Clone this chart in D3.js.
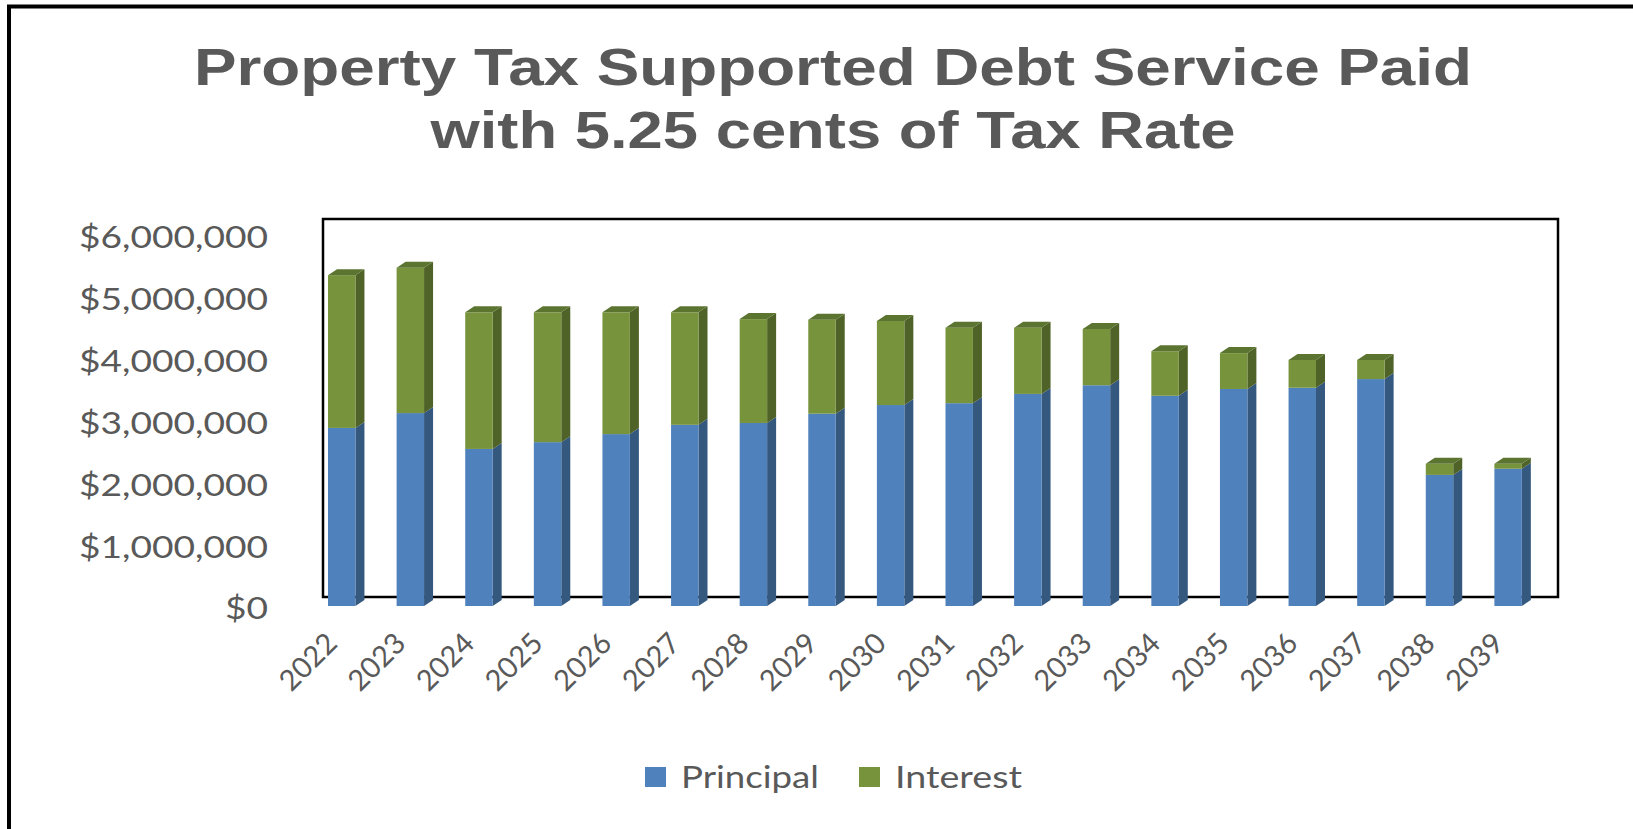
<!DOCTYPE html>
<html>
<head>
<meta charset="utf-8">
<script src="https://cdn.jsdelivr.net/npm/d3@7"></script>
<style>
  body { margin: 0; background: #fff; }
  svg { display: block; }
</style>
</head>
<body>
<svg id="chart" width="1633" height="829"></svg>
<script>
const YEARS = ['2022', '2023', '2024', '2025', '2026', '2027', '2028', '2029', '2030',
  '2031', '2032', '2033', '2034', '2035', '2036', '2037', '2038', '2039'];
const PRINCIPAL = [2880000, 3120000, 2540000, 2650000, 2780000, 2930000, 2960000, 3110000, 3250000,
  3280000, 3430000, 3570000, 3400000, 3510000, 3530000, 3670000, 2120000, 2220000];
const INTEREST = [2470000, 2350000, 2210000, 2100000, 1970000, 1820000, 1680000, 1520000, 1360000,
  1220000, 1070000, 910000, 720000, 580000, 450000, 310000, 180000, 80000];
const SERIES = ['Principal', 'Interest'];
const Y_TICKS = [0, 1000000, 2000000, 3000000, 4000000, 5000000, 6000000];
const TITLE_LINES = ['Property Tax Supported Debt Service Paid', 'with 5.25 cents of Tax Rate'];

const COLORS = {
  Principal: { front: '#4f81bd', side: '#35587f', top: '#6b95c9' },
  Interest: { front: '#77933c', side: '#4f6228', top: '#5b7530' }
};
const TEXT = '#595959';
const DX = 9; // 3d depth offset
const DY = 6;

const svg = d3.select('#chart');
svg.append('rect').attr('width', 1633).attr('height', 829).attr('fill', '#fff');

// outer border (only top and left visible in the picture)
svg.append('path')
  .attr('d', 'M9,829 V6.5 H1633')
  .attr('fill', 'none')
  .attr('stroke', '#000')
  .attr('stroke-width', 4);

// title
const titleWidths = [1278, 805];
svg.selectAll('text.title')
  .data(TITLE_LINES)
  .enter()
  .append('text')
  .attr('class', 'title')
  .attr('x', 833)
  .attr('y', (d, i) => (i === 0 ? 85 : 148))
  .attr('text-anchor', 'middle')
  .attr('font-family', 'Liberation Sans, Arial, sans-serif')
  .attr('font-weight', 'bold')
  .attr('font-size', 52)
  .attr('fill', TEXT)
  .attr('textLength', (d, i) => titleWidths[i])
  .attr('lengthAdjust', 'spacingAndGlyphs')
  .text(d => d);

const plot = { left: 323, right: 1558, top: 219, bottom: 597 };

const x = d3.scaleBand()
  .domain(YEARS)
  .range([318, 1553]);
const y = d3.scaleLinear()
  .domain([0, 6000000])
  .range([606, 235]);

const barWidth = x.bandwidth() * 0.4;
const frontX = d => x(d) + 10;

// back wall frame
svg.append('rect')
  .attr('x', plot.left)
  .attr('y', plot.top)
  .attr('width', plot.right - plot.left)
  .attr('height', plot.bottom - plot.top)
  .attr('fill', 'none')
  .attr('stroke', '#000')
  .attr('stroke-width', 2.5);

// y axis labels
const yAxis = d3.axisLeft(y)
  .tickValues(Y_TICKS)
  .tickSize(0)
  .tickPadding(0)
  .tickFormat(d3.format('$,.0f'));
const yg = svg.append('g').attr('transform', 'translate(268,3)').call(yAxis);
yg.select('.domain').remove();
yg.selectAll('text')
  .attr('font-family', 'Lato, Carlito, Calibri, sans-serif')
  .attr('font-size', 31)
  .attr('fill', TEXT);
const yStretch = 189 / yg.selectAll('text').filter(d => d === 6000000).node().getComputedTextLength();
yg.selectAll('text').each(function stretch() {
  const len = this.getComputedTextLength();
  d3.select(this).attr('textLength', len * yStretch).attr('lengthAdjust', 'spacingAndGlyphs');
});

// stacked bars
const rows = YEARS.map((year, i) => ({ year, Principal: PRINCIPAL[i], Interest: INTEREST[i] }));
const stacked = d3.stack().keys(SERIES)(rows);

stacked.forEach((layer, li) => {
  const c = COLORS[layer.key];
  const g = svg.append('g').attr('class', `series-${layer.key}`);
  layer.forEach(seg => {
    const year = seg.data.year;
    const xl = frontX(year);
    const xr = xl + barWidth;
    const yt = y(seg[1]);
    const yb = y(seg[0]);
    // side face
    g.append('path')
      .attr('d', `M${xr},${yt} L${xr + DX},${yt - DY} L${xr + DX},${yb - DY} L${xr},${yb} Z`)
      .attr('fill', c.side);
    // front face
    g.append('rect')
      .attr('x', xl)
      .attr('y', yt)
      .attr('width', barWidth)
      .attr('height', yb - yt)
      .attr('fill', c.front);
    // top face for the highest segment
    if (li === stacked.length - 1) {
      g.append('path')
        .attr('d', `M${xl},${yt} L${xl + DX},${yt - DY} L${xr + DX},${yt - DY} L${xr},${yt} Z`)
        .attr('fill', c.top);
    }
  });
});

// x axis labels
const xg = svg.append('g');
xg.selectAll('text')
  .data(YEARS)
  .enter()
  .append('text')
  .attr('transform', d => `translate(${frontX(d) + barWidth / 2 - 10},${638}) rotate(-45)`)
  .attr('text-anchor', 'end')
  .attr('dy', '0.35em')
  .attr('font-family', 'Lato, Carlito, Calibri, sans-serif')
  .attr('font-size', 29)
  .attr('fill', TEXT)
  .text(d => d);

// legend
const legendItems = [
  { key: 'Principal', sx: 645, tx: 681, tw: 138 },
  { key: 'Interest', sx: 859, tx: 895, tw: 127 }
];
const lg = svg.append('g');
lg.selectAll('rect')
  .data(legendItems)
  .enter()
  .append('rect')
  .attr('x', d => d.sx)
  .attr('y', 767)
  .attr('width', 21)
  .attr('height', 20)
  .attr('fill', d => COLORS[d.key].front);
lg.selectAll('text')
  .data(legendItems)
  .enter()
  .append('text')
  .attr('x', d => d.tx)
  .attr('y', 777)
  .attr('dy', '0.35em')
  .attr('font-family', 'Lato, Carlito, Calibri, sans-serif')
  .attr('font-size', 31)
  .attr('fill', TEXT)
  .attr('textLength', d => d.tw)
  .attr('lengthAdjust', 'spacingAndGlyphs')
  .text(d => d.key);
</script>
</body>
</html>
